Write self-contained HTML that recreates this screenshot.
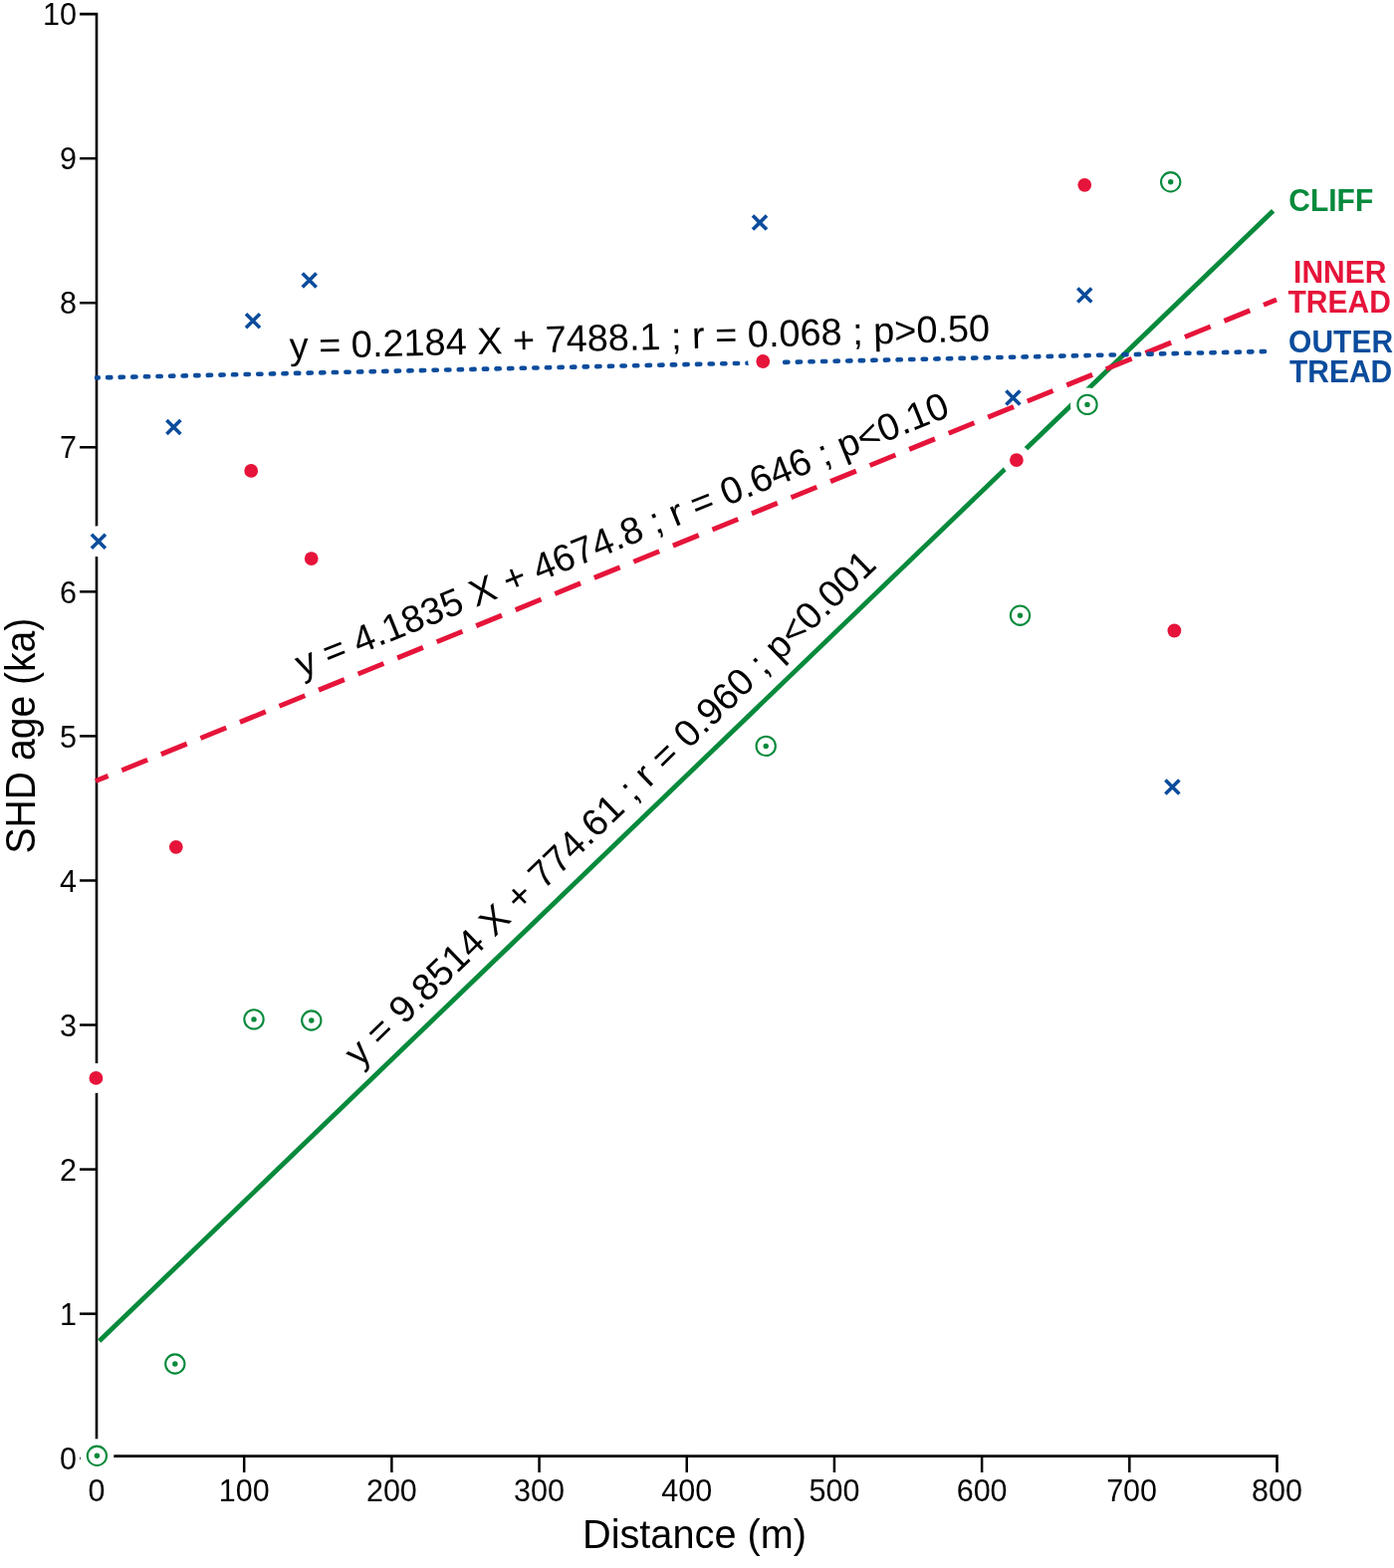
<!DOCTYPE html>
<html><head><meta charset="utf-8"><title>SHD age vs distance</title>
<style>html,body{margin:0;padding:0;background:#fff;}svg{display:block;}</style>
</head><body>
<svg width="1400" height="1575" viewBox="0 0 1400 1575" font-family='"Liberation Sans", Arial, Helvetica, sans-serif'>
<rect width="1400" height="1575" fill="#fff"/>
<path d="M80 14.10 H97.00 V1463.90" fill="none" stroke="#000" stroke-width="2.6" stroke-linejoin="miter"/>
<path d="M95.70 1462.60 H1282.50 V1479.0" fill="none" stroke="#000" stroke-width="2.6"/>
<line x1="80" y1="1464.70" x2="97.00" y2="1464.70" stroke="#000" stroke-width="2.5"/>
<line x1="80" y1="1319.64" x2="97.00" y2="1319.64" stroke="#000" stroke-width="2.5"/>
<line x1="80" y1="1174.58" x2="97.00" y2="1174.58" stroke="#000" stroke-width="2.5"/>
<line x1="80" y1="1029.52" x2="97.00" y2="1029.52" stroke="#000" stroke-width="2.5"/>
<line x1="80" y1="884.46" x2="97.00" y2="884.46" stroke="#000" stroke-width="2.5"/>
<line x1="80" y1="739.40" x2="97.00" y2="739.40" stroke="#000" stroke-width="2.5"/>
<line x1="80" y1="594.34" x2="97.00" y2="594.34" stroke="#000" stroke-width="2.5"/>
<line x1="80" y1="449.28" x2="97.00" y2="449.28" stroke="#000" stroke-width="2.5"/>
<line x1="80" y1="304.22" x2="97.00" y2="304.22" stroke="#000" stroke-width="2.5"/>
<line x1="80" y1="159.16" x2="97.00" y2="159.16" stroke="#000" stroke-width="2.5"/>
<line x1="97.00" y1="1462.60" x2="97.00" y2="1479.0" stroke="#000" stroke-width="2.5"/>
<line x1="245.19" y1="1462.60" x2="245.19" y2="1479.0" stroke="#000" stroke-width="2.5"/>
<line x1="393.38" y1="1462.60" x2="393.38" y2="1479.0" stroke="#000" stroke-width="2.5"/>
<line x1="541.56" y1="1462.60" x2="541.56" y2="1479.0" stroke="#000" stroke-width="2.5"/>
<line x1="689.75" y1="1462.60" x2="689.75" y2="1479.0" stroke="#000" stroke-width="2.5"/>
<line x1="837.94" y1="1462.60" x2="837.94" y2="1479.0" stroke="#000" stroke-width="2.5"/>
<line x1="986.12" y1="1462.60" x2="986.12" y2="1479.0" stroke="#000" stroke-width="2.5"/>
<line x1="1134.31" y1="1462.60" x2="1134.31" y2="1479.0" stroke="#000" stroke-width="2.5"/>
<text x="77" y="1475.90" font-size="30.5" text-anchor="end">0</text>
<text x="77" y="1330.84" font-size="30.5" text-anchor="end">1</text>
<text x="77" y="1185.78" font-size="30.5" text-anchor="end">2</text>
<text x="77" y="1040.72" font-size="30.5" text-anchor="end">3</text>
<text x="77" y="895.66" font-size="30.5" text-anchor="end">4</text>
<text x="77" y="750.60" font-size="30.5" text-anchor="end">5</text>
<text x="77" y="605.54" font-size="30.5" text-anchor="end">6</text>
<text x="77" y="460.48" font-size="30.5" text-anchor="end">7</text>
<text x="77" y="315.42" font-size="30.5" text-anchor="end">8</text>
<text x="77" y="170.36" font-size="30.5" text-anchor="end">9</text>
<text x="77" y="25.30" font-size="30.5" text-anchor="end">10</text>
<text x="97.00" y="1507.6" font-size="30.5" text-anchor="middle">0</text>
<text x="245.19" y="1507.6" font-size="30.5" text-anchor="middle">100</text>
<text x="393.38" y="1507.6" font-size="30.5" text-anchor="middle">200</text>
<text x="541.56" y="1507.6" font-size="30.5" text-anchor="middle">300</text>
<text x="689.75" y="1507.6" font-size="30.5" text-anchor="middle">400</text>
<text x="837.94" y="1507.6" font-size="30.5" text-anchor="middle">500</text>
<text x="986.12" y="1507.6" font-size="30.5" text-anchor="middle">600</text>
<text x="1136.61" y="1507.6" font-size="30.5" text-anchor="middle">700</text>
<text x="1282.50" y="1507.6" font-size="30.5" text-anchor="middle">800</text>
<text transform="translate(697.5 1555) scale(1 1.063)" font-size="39" text-anchor="middle" textLength="225" lengthAdjust="spacingAndGlyphs">Distance (m)</text>
<text transform="translate(34.9 739.1) rotate(-90) scale(1 1.08)" font-size="39.1" text-anchor="middle">SHD age (ka)</text>
<line x1="99.7" y1="1347.0" x2="1278.6" y2="211.8" stroke="#078a3c" stroke-width="4.8"/>
<line x1="96.0" y1="784.5" x2="1282.0" y2="301.0" stroke="#e6143a" stroke-width="5" stroke-dasharray="27.85 14.85" stroke-dashoffset="14.25"/>
<line x1="97.1" y1="379.4" x2="1272.0" y2="353.0" stroke="#0b4c9c" stroke-width="4.6" stroke-linecap="round" stroke-dasharray="3.3 9.298" stroke-dashoffset="1.65"/>
<text transform="translate(291 360.5) rotate(-1.47)" font-size="37.9">y = 0.2184 X + 7488.1 ; r = 0.068 ; p&gt;0.50</text>
<text transform="translate(303 680.5) rotate(-21.97)" font-size="37.9">y = 4.1835 X + 4674.8 ; r = 0.646 ; p&lt;0.10</text>
<text transform="translate(361.1 1073.1) rotate(-44.06)" font-size="37.9">y = 9.8514 X + 774.61 ; r = 0.960 ; p&lt;0.001</text>
<circle cx="98.9" cy="543.8" r="15.5" fill="#fff"/>
<circle cx="174.4" cy="428.9" r="15.5" fill="#fff"/>
<circle cx="254" cy="322.2" r="15.5" fill="#fff"/>
<circle cx="310.7" cy="281.6" r="15.5" fill="#fff"/>
<circle cx="763" cy="223.6" r="15.5" fill="#fff"/>
<circle cx="1089.3" cy="296.6" r="15.5" fill="#fff"/>
<circle cx="1177.4" cy="790.6" r="15.5" fill="#fff"/>
<circle cx="96.4" cy="1082.9" r="15" fill="#fff"/>
<circle cx="176.8" cy="850.8" r="15" fill="#fff"/>
<circle cx="252.2" cy="472.9" r="15" fill="#fff"/>
<circle cx="312.7" cy="561.1" r="15" fill="#fff"/>
<circle cx="766.25" cy="363" r="15" fill="#fff"/>
<circle cx="1020.9" cy="462.1" r="15" fill="#fff"/>
<circle cx="1089.3" cy="185.8" r="15" fill="#fff"/>
<circle cx="1179.4" cy="633.5" r="15" fill="#fff"/>
<circle cx="97.4" cy="1462.3" r="17" fill="#fff"/>
<circle cx="175.8" cy="1370" r="17" fill="#fff"/>
<circle cx="255" cy="1023.9" r="17" fill="#fff"/>
<circle cx="312.8" cy="1025" r="17" fill="#fff"/>
<circle cx="769.2" cy="749.4" r="17" fill="#fff"/>
<circle cx="1024.5" cy="618.2" r="17" fill="#fff"/>
<circle cx="1092" cy="406.4" r="17" fill="#fff"/>
<circle cx="1175.7" cy="182.8" r="17" fill="#fff"/>
<path d="M91.90 536.80 L105.90 550.80 M91.90 550.80 L105.90 536.80" stroke="#0b4c9c" stroke-width="3.6"/>
<path d="M167.40 421.90 L181.40 435.90 M167.40 435.90 L181.40 421.90" stroke="#0b4c9c" stroke-width="3.6"/>
<path d="M247.00 315.20 L261.00 329.20 M247.00 329.20 L261.00 315.20" stroke="#0b4c9c" stroke-width="3.6"/>
<path d="M303.70 274.60 L317.70 288.60 M303.70 288.60 L317.70 274.60" stroke="#0b4c9c" stroke-width="3.6"/>
<path d="M756.00 216.60 L770.00 230.60 M756.00 230.60 L770.00 216.60" stroke="#0b4c9c" stroke-width="3.6"/>
<path d="M1010.40 392.60 L1024.40 406.60 M1010.40 406.60 L1024.40 392.60" stroke="#0b4c9c" stroke-width="3.6"/>
<path d="M1082.30 289.60 L1096.30 303.60 M1082.30 303.60 L1096.30 289.60" stroke="#0b4c9c" stroke-width="3.6"/>
<path d="M1170.40 783.60 L1184.40 797.60 M1170.40 797.60 L1184.40 783.60" stroke="#0b4c9c" stroke-width="3.6"/>
<circle cx="96.4" cy="1082.9" r="6.9" fill="#e6143a"/>
<circle cx="176.8" cy="850.8" r="6.9" fill="#e6143a"/>
<circle cx="252.2" cy="472.9" r="6.9" fill="#e6143a"/>
<circle cx="312.7" cy="561.1" r="6.9" fill="#e6143a"/>
<circle cx="766.25" cy="363" r="6.9" fill="#e6143a"/>
<circle cx="1020.9" cy="462.1" r="6.9" fill="#e6143a"/>
<circle cx="1089.3" cy="185.8" r="6.9" fill="#e6143a"/>
<circle cx="1179.4" cy="633.5" r="6.9" fill="#e6143a"/>
<circle cx="97.4" cy="1462.3" r="9.65" fill="none" stroke="#078a3c" stroke-width="2.1"/><circle cx="97.4" cy="1462.3" r="2.7" fill="#078a3c"/>
<circle cx="175.8" cy="1370" r="9.65" fill="none" stroke="#078a3c" stroke-width="2.1"/><circle cx="175.8" cy="1370" r="2.7" fill="#078a3c"/>
<circle cx="255" cy="1023.9" r="9.65" fill="none" stroke="#078a3c" stroke-width="2.1"/><circle cx="255" cy="1023.9" r="2.7" fill="#078a3c"/>
<circle cx="312.8" cy="1025" r="9.65" fill="none" stroke="#078a3c" stroke-width="2.1"/><circle cx="312.8" cy="1025" r="2.7" fill="#078a3c"/>
<circle cx="769.2" cy="749.4" r="9.65" fill="none" stroke="#078a3c" stroke-width="2.1"/><circle cx="769.2" cy="749.4" r="2.7" fill="#078a3c"/>
<circle cx="1024.5" cy="618.2" r="9.65" fill="none" stroke="#078a3c" stroke-width="2.1"/><circle cx="1024.5" cy="618.2" r="2.7" fill="#078a3c"/>
<circle cx="1092" cy="406.4" r="9.65" fill="none" stroke="#078a3c" stroke-width="2.1"/><circle cx="1092" cy="406.4" r="2.7" fill="#078a3c"/>
<circle cx="1175.7" cy="182.8" r="9.65" fill="none" stroke="#078a3c" stroke-width="2.1"/><circle cx="1175.7" cy="182.8" r="2.7" fill="#078a3c"/>
<text transform="translate(1294.3 212.0) scale(1 1.045)" font-size="30" font-weight="bold" fill="#078a3c" text-anchor="start">CLIFF</text>
<text transform="translate(1345.75 283.5) scale(1 1.045)" font-size="30" font-weight="bold" fill="#e6143a" text-anchor="middle">INNER</text>
<text transform="translate(1345.15 313.9) scale(1 1.045)" font-size="30" font-weight="bold" fill="#e6143a" text-anchor="middle">TREAD</text>
<text transform="translate(1346.6 354.1) scale(1 1.045)" font-size="30" font-weight="bold" fill="#0b4c9c" text-anchor="middle">OUTER</text>
<text transform="translate(1346.6 384.3) scale(1 1.045)" font-size="30" font-weight="bold" fill="#0b4c9c" text-anchor="middle">TREAD</text>
</svg>
</body></html>
